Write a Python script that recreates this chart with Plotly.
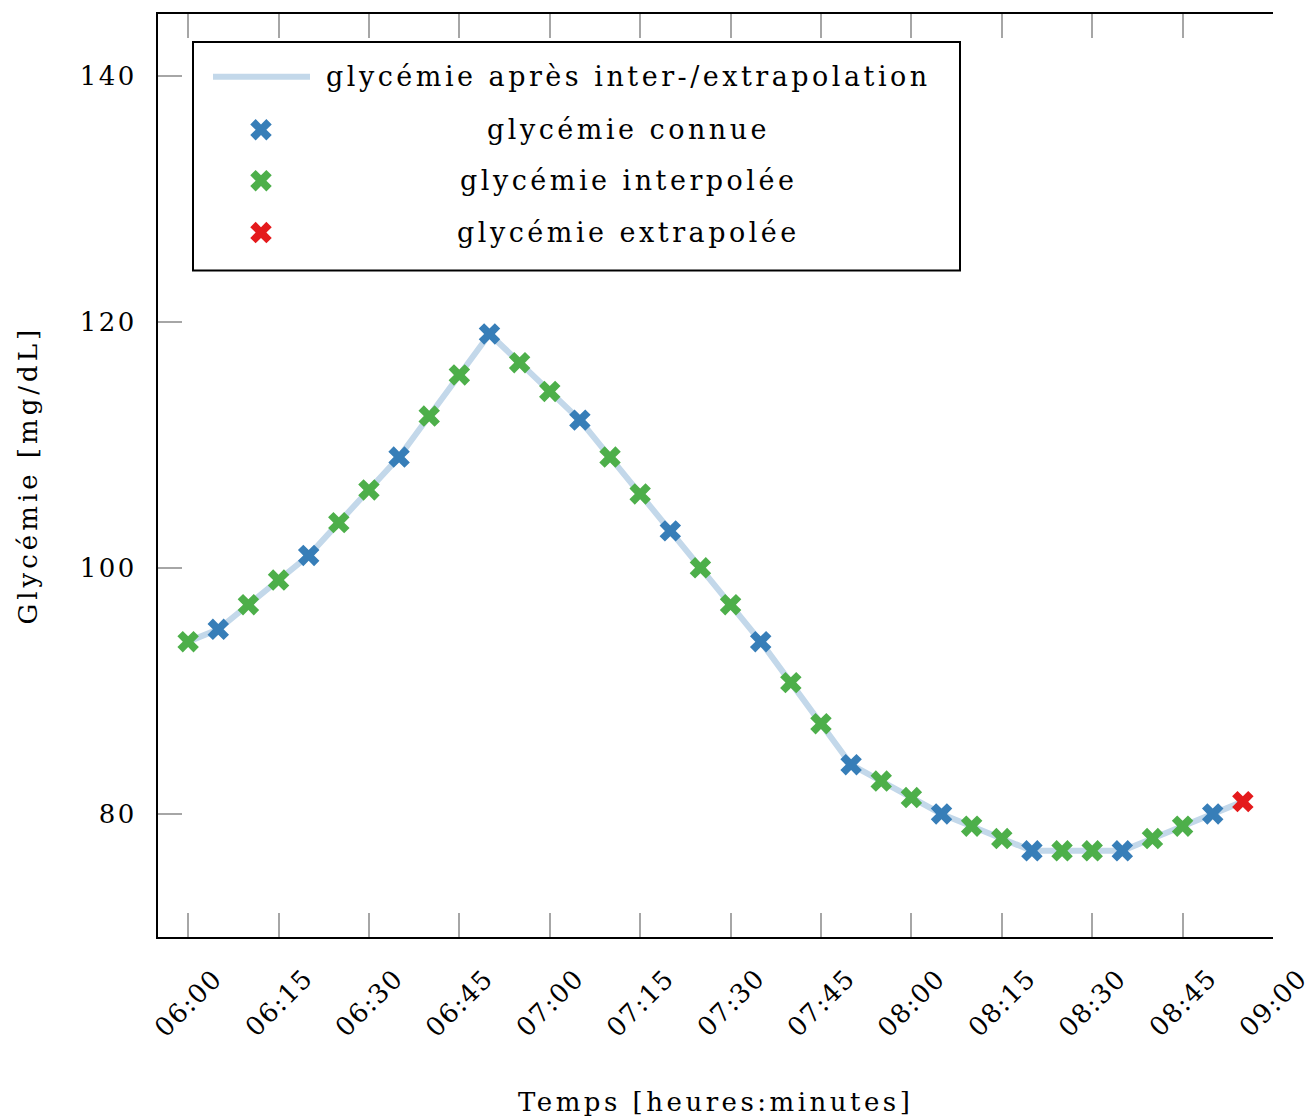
import plotly.graph_objects as go

# Glucose readings every 5 minutes, with the kind of each value
DAY = "2024-01-01 "
times = ["06:00", "06:05", "06:10", "06:15", "06:20", "06:25", "06:30", "06:35",
         "06:40", "06:45", "06:50", "06:55", "07:00", "07:05", "07:10", "07:15",
         "07:20", "07:25", "07:30", "07:35", "07:40", "07:45", "07:50", "07:55",
         "08:00", "08:05", "08:10", "08:15", "08:20", "08:25", "08:30", "08:35",
         "08:40", "08:45", "08:50", "08:55"]
glycemia = [94, 95, 97, 99, 101, 103.67, 106.33, 109,
            112.33, 115.67, 119, 116.67, 114.33, 112, 109, 106,
            103, 100, 97, 94, 90.67, 87.33, 84, 82.67,
            81.33, 80, 79, 78, 77, 77, 77, 77,
            78, 79, 80, 81]
kind = ["interp", "known", "interp", "interp", "known", "interp", "interp", "known",
        "interp", "interp", "known", "interp", "interp", "known", "interp", "interp",
        "known", "interp", "interp", "known", "interp", "interp", "known", "interp",
        "interp", "known", "interp", "interp", "known", "interp", "interp", "known",
        "interp", "interp", "known", "extrap"]

x_ticks = ["06:00", "06:15", "06:30", "06:45", "07:00", "07:15", "07:30", "07:45",
           "08:00", "08:15", "08:30", "08:45", "09:00"]
y_ticks = [80, 100, 120, 140]

legend_labels = ["glycémie après inter-/extrapolation", "glycémie connue",
                 "glycémie interpolée", "glycémie extrapolée"]

BLUE = "#377eb8"
GREEN = "#4daf4a"
RED = "#e41a1c"
LINE = "#c3d8ea"
TICK = "#a6a6a6"
FONT = "DejaVu Serif"
FS = 26
MSIZE = 19


def spaced(text, px=3):
    """Wrap text in a span with extra letter spacing."""
    return f'<span style="letter-spacing:{px}px">{text}</span>'


fig = go.Figure()

# interpolated / extrapolated curve
fig.add_trace(go.Scatter(
    x=[DAY + t for t in times], y=glycemia, mode="lines",
    line=dict(color=LINE, width=6), showlegend=False, hoverinfo="skip"))

# markers by kind
for key, color in [("known", BLUE), ("interp", GREEN), ("extrap", RED)]:
    xs = [DAY + t for t, k in zip(times, kind) if k == key]
    ys = [v for v, k in zip(glycemia, kind) if k == key]
    fig.add_trace(go.Scatter(
        x=xs, y=ys, mode="markers", showlegend=False,
        marker=dict(symbol="x", size=MSIZE, color=color, line=dict(width=0))))

# legend drawn on an overlay axis measured in pixels from the plot's top-left
PLOT_W, PLOT_H = 1115, 925
box = dict(x0=35, x1=802, y0=28, y1=257)
row_y = [63, 116, 167, 219]
text_x = 470
sample_x = 103

fig.add_trace(go.Scatter(
    x=[55, 152], y=[row_y[0], row_y[0]], xaxis="x2", yaxis="y2", mode="lines",
    line=dict(color=LINE, width=6), showlegend=False, hoverinfo="skip"))
fig.add_trace(go.Scatter(
    x=[sample_x] * 3, y=row_y[1:], xaxis="x2", yaxis="y2", mode="markers",
    marker=dict(symbol="x", size=MSIZE, color=[BLUE, GREEN, RED], line=dict(width=0)),
    showlegend=False, hoverinfo="skip"))

fig.add_shape(type="rect", xref="x2", yref="y2", x0=box["x0"], x1=box["x1"],
              y0=box["y0"], y1=box["y1"], line=dict(color="black", width=2),
              fillcolor="white", layer="below")

annotations = []
for label, y in zip(legend_labels, row_y):
    annotations.append(dict(xref="x2", yref="y2", x=text_x, y=y, text=spaced(label, 3.5),
                            showarrow=False, xanchor="center", yanchor="middle",
                            font=dict(family=FONT, size=27, color="black")))

# rotated time labels under each tick
for t in x_ticks:
    annotations.append(dict(xref="x", yref="paper", x=DAY + t, y=0, yshift=-66,
                            text=spaced(t, 1.5), textangle=-45, showarrow=False,
                            xanchor="center", yanchor="middle",
                            font=dict(family=FONT, size=FS, color="black")))

# axis titles
annotations.append(dict(xref="paper", yref="paper", x=0.5, y=0, yshift=-165,
                        text=spaced("Temps [heures:minutes]", 3.5), showarrow=False,
                        xanchor="center", yanchor="middle",
                        font=dict(family=FONT, size=FS, color="black")))
annotations.append(dict(xref="paper", yref="paper", x=0, y=0.5, xshift=-131,
                        text=spaced("Glycémie [mg/dL]", 4), textangle=-90, showarrow=False,
                        xanchor="center", yanchor="middle",
                        font=dict(family=FONT, size=FS, color="black")))

fig.update_layout(
    width=1312, height=1117,
    margin=dict(l=158, r=39, t=12, b=180),
    paper_bgcolor="white", plot_bgcolor="white",
    font=dict(family=FONT, size=FS, color="black"),
    annotations=annotations,
    xaxis=dict(type="date", range=[DAY + "05:55", DAY + "09:00"],
               tickvals=[DAY + t for t in x_ticks], showticklabels=False,
               ticks="inside", ticklen=24, tickwidth=1.5, tickcolor=TICK,
               showline=True, linecolor="black", linewidth=2, mirror="ticks",
               showgrid=False, zeroline=False),
    yaxis=dict(range=[70, 145], tickvals=y_ticks,
               ticktext=[spaced(str(v), 2.5) for v in y_ticks],
               ticks="inside", ticklen=24, tickwidth=1.5, tickcolor=TICK,
               showline=True, linecolor="black", linewidth=2, mirror=False,
               showgrid=False, zeroline=False, ticklabelstandoff=14,
               tickfont=dict(family=FONT, size=FS, color="black")),
    xaxis2=dict(domain=[0, 1], range=[0, PLOT_W], anchor="y2", overlaying="x",
                visible=False, fixedrange=True),
    yaxis2=dict(domain=[0, 1], range=[PLOT_H, 0], anchor="x2", overlaying="y",
                visible=False, fixedrange=True),
    showlegend=False,
)

fig.write_html("out.html")
